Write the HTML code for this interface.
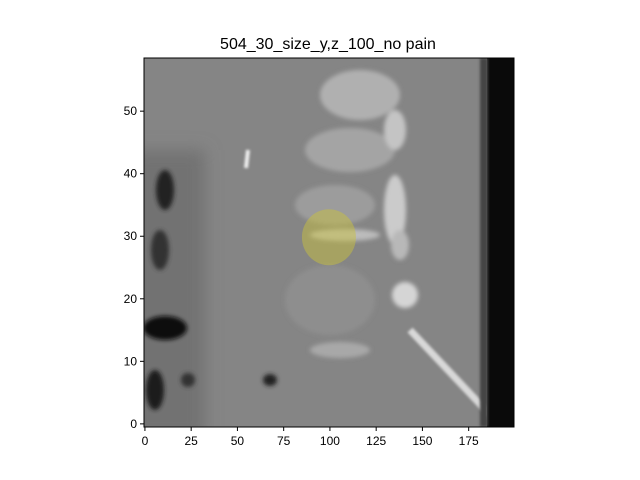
<!DOCTYPE html>
<html><head><meta charset="utf-8"><style>
body{margin:0;background:#fff;}
svg{display:block;font-family:"Liberation Sans","DejaVu Sans",sans-serif;}
</style></head><body>
<svg id="chart" width="640" height="480" viewBox="0 0 640 480">
<defs>
<filter id="bl" x="-50%" y="-50%" width="200%" height="200%"><feGaussianBlur stdDeviation="2"/></filter>
<filter id="bl2" x="-50%" y="-50%" width="200%" height="200%"><feGaussianBlur stdDeviation="1.2"/></filter>
<filter id="bl3" x="-50%" y="-50%" width="200%" height="200%"><feGaussianBlur stdDeviation="8"/></filter>
<clipPath id="clip"><rect x="144" y="58" width="370" height="369"/></clipPath>
</defs>
<text x="328" y="49" text-anchor="middle" font-size="16" fill="#000">504_30_size_y,z_100_no pain</text>
<g clip-path="url(#clip)">
<rect x="144" y="58" width="370" height="369" fill="#858585"/>
<g filter="url(#bl3)">
<rect x="130" y="150" width="75" height="290" fill="#727272"/>
</g>
<g filter="url(#bl)">
<ellipse cx="165" cy="190" rx="9" ry="20" fill="#222"/>
<ellipse cx="160" cy="250" rx="9" ry="20" fill="#333"/>
<ellipse cx="165" cy="328" rx="22" ry="12" fill="#111"/>
<ellipse cx="155" cy="390" rx="9" ry="20" fill="#1a1a1a"/>
<ellipse cx="188" cy="380" rx="7" ry="7" fill="#333"/>
<ellipse cx="270" cy="380" rx="7" ry="6" fill="#222"/>
<ellipse cx="360" cy="95" rx="40" ry="25" fill="#b0b0b0"/>
<ellipse cx="350" cy="150" rx="45" ry="22" fill="#a4a4a4"/>
<ellipse cx="335" cy="205" rx="40" ry="20" fill="#9c9c9c"/>
<ellipse cx="330" cy="300" rx="45" ry="35" fill="#8e8e8e"/>
<ellipse cx="395" cy="210" rx="11" ry="35" fill="#cbcbcb"/>
<ellipse cx="405" cy="295" rx="13" ry="13" fill="#d5d5d5"/>
<ellipse cx="395" cy="130" rx="11" ry="20" fill="#c4c4c4"/>
<ellipse cx="400" cy="245" rx="9" ry="15" fill="#b8b8b8"/>
<ellipse cx="345" cy="235" rx="35" ry="6" fill="#bcbcbc"/>
<ellipse cx="340" cy="350" rx="30" ry="8" fill="#a8a8a8"/>
</g>
<g filter="url(#bl2)">
<line x1="410" y1="330" x2="495" y2="420" stroke="#d8d8d8" stroke-width="7"/>
<line x1="248" y1="150" x2="246" y2="168" stroke="#eee" stroke-width="4"/>
</g>
<rect x="487" y="58" width="30" height="369" fill="#0a0a0a"/>
<rect x="480" y="58" width="8" height="369" fill="#444" filter="url(#bl2)"/>
<ellipse id="roi" cx="329" cy="235" rx="27" ry="28" fill="#c8c040" fill-opacity="0.5"/>
</g>
<rect x="144" y="58" width="370" height="369" fill="none" stroke="#000" stroke-width="1"/>
<g id="xaxis"></g>
<g id="yaxis"></g>
</svg>
<script>
const xTicks=[0,25,50,75,100,125,150,175];
const yTicks=[0,10,20,30,40,50];
const roiCenter=[100,30];
const xMin=-0.5,xMax=199.5,yMin=-0.5,yMax=58.5;
const L=144,R=514,T=58,B=427;
const sx=v=>L+(v-xMin)/(xMax-xMin)*(R-L);
const sy=v=>B-(v-yMin)/(yMax-yMin)*(B-T);
const NS="http://www.w3.org/2000/svg";
const roi=document.getElementById('roi');
roi.setAttribute('cx',sx(roiCenter[0])-1);
roi.setAttribute('cy',sy(roiCenter[1])+1);
const xa=document.getElementById('xaxis'),ya=document.getElementById('yaxis');
xTicks.forEach(t=>{
 const x=sx(t);
 const l=document.createElementNS(NS,'line');
 
 
 l.setAttribute('x1',x);l.setAttribute('x2',x);l.setAttribute('y1',B);l.setAttribute('y2',B+4);l.setAttribute('stroke','#000');
 xa.appendChild(l);
 const s=document.createElementNS(NS,'text');
 
 
 s.setAttribute('x',x);s.setAttribute('y',B+18);s.setAttribute('text-anchor','middle');s.setAttribute('font-size','12');
 s.textContent=t;xa.appendChild(s);
});
yTicks.forEach(t=>{
 const y=sy(t);
 const l=document.createElementNS(NS,'line');
 
 
 l.setAttribute('x1',L-4);l.setAttribute('x2',L);l.setAttribute('y1',y);l.setAttribute('y2',y);l.setAttribute('stroke','#000');
 ya.appendChild(l);
 const s=document.createElementNS(NS,'text');
 
 
 s.setAttribute('x',L-7);s.setAttribute('y',y+4);s.setAttribute('text-anchor','end');s.setAttribute('font-size','12');
 s.textContent=t;ya.appendChild(s);
});
</script>
</body></html>
